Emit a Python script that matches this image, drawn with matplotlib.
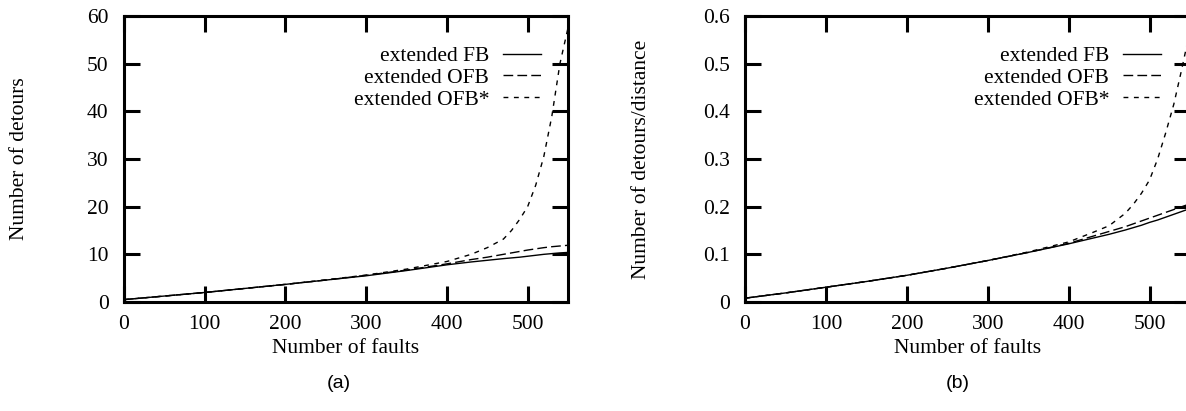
import matplotlib
matplotlib.use("Agg")
import matplotlib.pyplot as plt

# ---------------- data ----------------
faults = [0, 50, 100, 150, 200, 250, 300, 350, 400, 430, 450, 470, 480, 490,
          500, 510, 520, 530, 540, 550]

detours_fb = [0.5, 1.25, 2.0, 2.85, 3.7, 4.6, 5.5, 6.6, 7.8, 8.4, 8.75, 9.1,
              9.25, 9.4, 9.6, 9.8, 10.0, 10.15, 10.3, 10.4]
detours_ofb = [0.5, 1.25, 2.0, 2.85, 3.7, 4.6, 5.6, 6.7, 8.0, 8.9, 9.4, 10.0,
               10.3, 10.6, 10.9, 11.15, 11.4, 11.6, 11.75, 11.9]
detours_ofbs = [0.5, 1.25, 2.0, 2.85, 3.7, 4.65, 5.65, 6.9, 8.5, 10.0, 11.4,
                13.2, 15.0, 17.3, 20.0, 24.5, 30.5, 39.0, 50.0, 57.5]

ratio_fb = [0.008, 0.019, 0.031, 0.043, 0.056, 0.071, 0.087, 0.104, 0.122,
            0.134, 0.142, 0.151, 0.156, 0.161, 0.167, 0.172, 0.178, 0.184,
            0.190, 0.196]
ratio_ofb = [0.008, 0.019, 0.031, 0.043, 0.056, 0.071, 0.087, 0.104, 0.123,
             0.138, 0.148, 0.158, 0.164, 0.170, 0.176, 0.182, 0.188, 0.194,
             0.200, 0.206]
ratio_ofbs = [0.008, 0.019, 0.031, 0.043, 0.056, 0.071, 0.087, 0.105, 0.126,
              0.146, 0.160, 0.186, 0.205, 0.228, 0.256, 0.30, 0.355, 0.415,
              0.49, 0.57]

series_labels = ["extended FB", "extended OFB", "extended OFB*"]
x_ticks = [0, 100, 200, 300, 400, 500]
y_ticks_a = [0, 10, 20, 30, 40, 50, 60]
y_ticks_b = [0, 0.1, 0.2, 0.3, 0.4, 0.5, 0.6]
y_ticklabels_b = ["0", "0.1", "0.2", "0.3", "0.4", "0.5", "0.6"]

# ---------------- style ----------------
plt.rcParams['font.family'] = ['Liberation Serif', 'DejaVu Serif']
FS = 15.5
styles = [dict(linestyle='-'),
          dict(linestyle=(0, (7, 3))),
          dict(linestyle=(0, (3.5, 4)))]

W, H = 1186, 411
fig = plt.figure(figsize=(W / 100, H / 100), dpi=100)


def px_axes(x0, x1, y0, y1):
    return fig.add_axes([x0 / W, (H - y1) / H, (x1 - x0) / W, (y1 - y0) / H])


ax_a = px_axes(124, 568, 16, 302)
ax_b = px_axes(745, 1190, 16, 302)

panels = [
    (ax_a, [detours_fb, detours_ofb, detours_ofbs], y_ticks_a, None,
     (0, 60), "Number of detours", -0.213, 0.939),
    (ax_b, [ratio_fb, ratio_ofb, ratio_ofbs], y_ticks_b, y_ticklabels_b,
     (0, 0.6), "Number of detours/distance", -0.212, 0.935),
]

for ax, ys, yt, ytl, ylim, ylab, ylab_x, leg_x in panels:
    for y, lab, st in zip(ys, series_labels, styles):
        ax.plot(faults, y, color='black', linewidth=1.0, label=lab, **st)
    ax.set_xlim(0, 550)
    ax.set_ylim(*ylim)
    ax.set_xticks(x_ticks)
    ax.set_yticks(yt)
    if ytl is not None:
        ax.set_yticklabels(ytl)
    for s in ax.spines.values():
        s.set_linewidth(2.2)
    ax.tick_params(direction='in', length=11.5, width=2.2, top=True,
                   right=True, labelsize=FS)
    ax.tick_params(axis='y', pad=11)
    ax.tick_params(axis='x', pad=9)
    ax.set_xlabel("Number of faults", fontsize=FS)
    ax.xaxis.set_label_coords(0.5, -0.128)
    ax.set_ylabel(ylab, fontsize=FS)
    ax.yaxis.set_label_coords(ylab_x, 0.5)
    ax.legend(loc='upper right', bbox_to_anchor=(leg_x, 0.895),
              frameon=False, markerfirst=False, fontsize=FS,
              handlelength=1.76, handletextpad=0.65, labelspacing=0.08,
              borderpad=0, borderaxespad=0)

fig.text(339 / W, 1 - 383 / H, "(a)", ha='center', va='center',
         fontsize=14, family=['Liberation Sans', 'DejaVu Sans'])
fig.text(958 / W, 1 - 383 / H, "(b)", ha='center', va='center',
         fontsize=14, family=['Liberation Sans', 'DejaVu Sans'])

fig.savefig("out.png", dpi=100)
